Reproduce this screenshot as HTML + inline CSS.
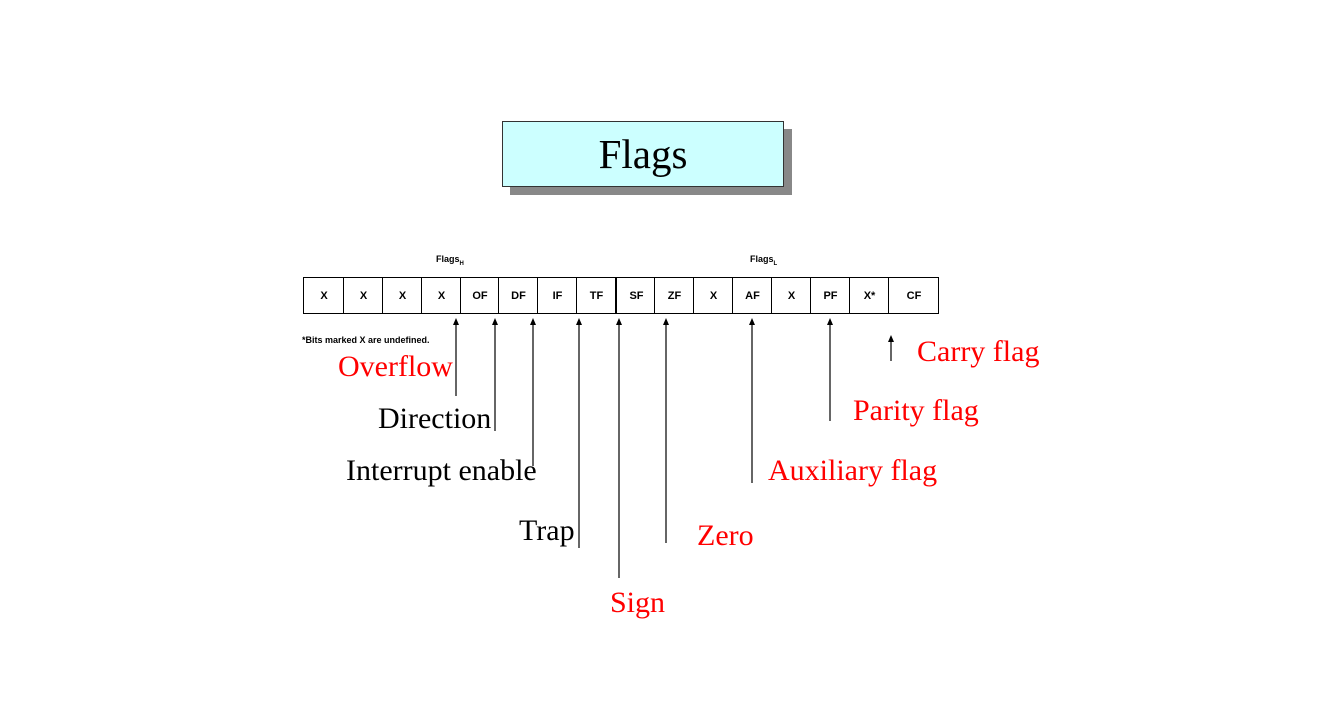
<!DOCTYPE html>
<html><head><style>
body{margin:0;width:1340px;height:716px;background:#fff;position:relative;overflow:hidden;font-family:"Liberation Serif",serif}
.t{position:absolute;font-size:30px;white-space:nowrap;line-height:1}
.r{color:#f00}
.c{position:absolute;top:278px;height:35px;border-left:1px solid #000;font:bold 11px "Liberation Sans",sans-serif;display:flex;align-items:center;justify-content:center}
</style></head><body>
<div style="position:absolute;left:510px;top:129px;width:282px;height:66px;background:#888"></div>
<div style="position:absolute;left:502px;top:121px;width:280px;height:64px;background:#ccffff;border:1px solid #333;font-size:41px;display:flex;align-items:center;justify-content:center">Flags</div>
<div style="position:absolute;left:436px;top:254px;font:bold 9px 'Liberation Sans',sans-serif">Flags<sub style="font-size:6px">H</sub></div>
<div style="position:absolute;left:750px;top:254px;font:bold 9px 'Liberation Sans',sans-serif">Flags<sub style="font-size:6px">L</sub></div>
<div style="position:absolute;left:303px;top:277px;width:634px;height:35px;border:1px solid #000"></div>
<div id="cells"></div>
<div style="position:absolute;left:302px;top:335px;font:bold 9px 'Liberation Sans',sans-serif">*Bits marked X are undefined.</div>
<svg style="position:absolute;left:0;top:0" width="1340" height="716">
<g stroke="#000" stroke-width="1.2" fill="none">
<line x1="456" y1="320" x2="456" y2="396"/><line x1="495" y1="320" x2="495" y2="431"/>
<line x1="533" y1="320" x2="533" y2="466"/><line x1="579" y1="320" x2="579" y2="548"/>
<line x1="619" y1="320" x2="619" y2="578"/><line x1="666" y1="320" x2="666" y2="543"/>
<line x1="752" y1="320" x2="752" y2="483"/><line x1="830" y1="320" x2="830" y2="421"/>
<line x1="891" y1="337" x2="891" y2="361"/>
</g>
<g fill="#000">
<path d="M456 318l-3 7h6z"/><path d="M495 318l-3 7h6z"/><path d="M533 318l-3 7h6z"/><path d="M579 318l-3 7h6z"/><path d="M619 318l-3 7h6z"/><path d="M666 318l-3 7h6z"/><path d="M752 318l-3 7h6z"/><path d="M830 318l-3 7h6z"/><path d="M891 335l-3 7h6z"/>
</g>
</svg>
<div class="t r" style="left:338px;top:352px">Overflow</div>
<div class="t" style="left:378px;top:404px">Direction</div>
<div class="t" style="left:346px;top:456px">Interrupt enable</div>
<div class="t" style="left:519px;top:516px">Trap</div>
<div class="t r" style="left:610px;top:588px">Sign</div>
<div class="t r" style="left:697px;top:521px">Zero</div>
<div class="t r" style="left:768px;top:456px">Auxiliary flag</div>
<div class="t r" style="left:853px;top:396px">Parity flag</div>
<div class="t r" style="left:917px;top:337px">Carry flag</div>
<script>
var l=["X","X","X","X","OF","DF","IF","TF","SF","ZF","X","AF","X","PF","X*","CF"];
var b=[303,343,382,421,460,498,537,576,615,654,693,732,771,810,849,888,938];
var h="";for(var i=0;i<16;i++){h+='<div class="c" style="left:'+b[i]+'px;width:'+(b[i+1]-b[i])+'px;'+(i==8?'border-left-width:2px;':'')+'">'+l[i]+'</div>';}
document.getElementById("cells").innerHTML=h;
</script>
</body></html>
